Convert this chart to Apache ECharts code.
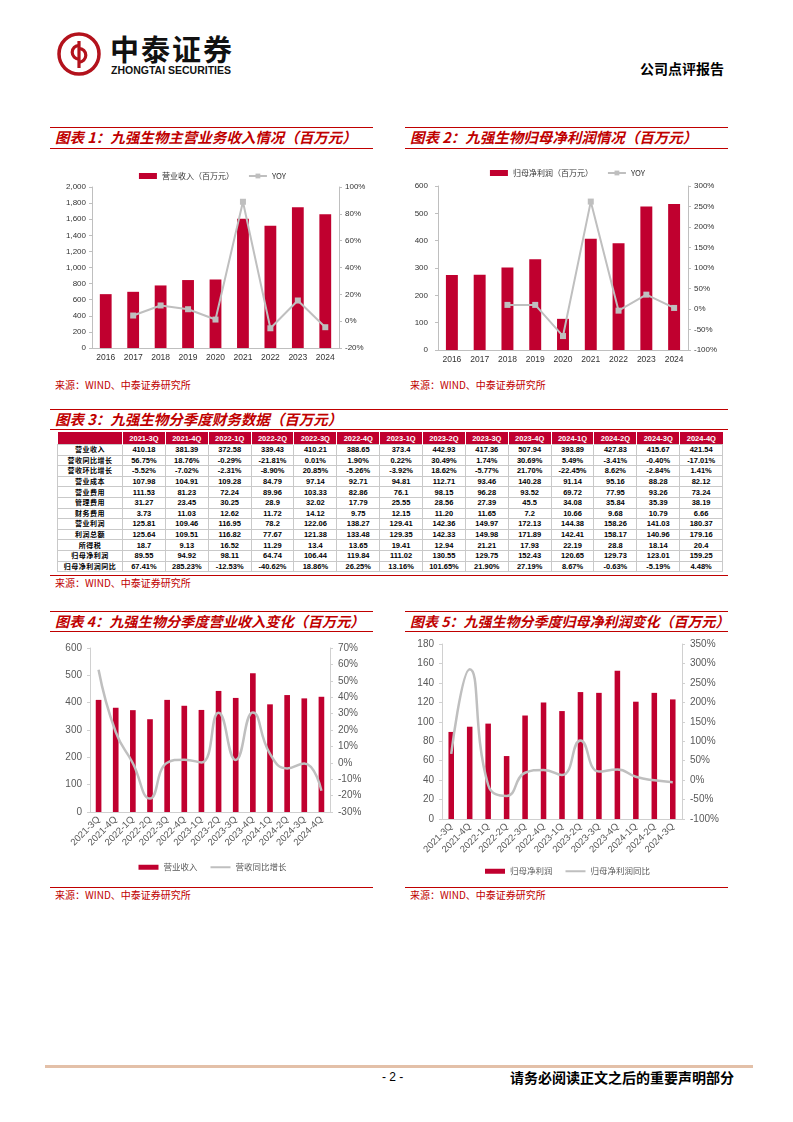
<!DOCTYPE html>
<html><head><meta charset="utf-8">
<script src="https://cdn.jsdelivr.net/npm/echarts@6.0.0/dist/echarts.min.js"></script>
<style>
body{margin:0;width:793px;height:1122px;position:relative;background:#fff;font-family:"Noto Sans CJK SC",sans-serif;overflow:hidden}
.abs{position:absolute}
.title{position:absolute;border-top:1.5px solid #c00000;border-bottom:1.5px solid #c00000;color:#c00000;font-weight:bold;font-style:italic;font-size:14.5px;line-height:18px;padding-left:5px;box-sizing:border-box;white-space:nowrap}
.src{position:absolute;color:#c00000;font-size:10px;line-height:12px;white-space:nowrap}
.rline{position:absolute;height:0;border-top:1.5px solid #c00000}
table{position:absolute;border-collapse:collapse;table-layout:fixed;font-family:"Liberation Sans",Arial,sans-serif;font-weight:bold;font-size:7.5px;color:#000}
th{background:#c0002f;color:#fff;height:12px;padding:0;text-align:center;border-left:1px solid #fff;font-size:7.5px}
td{border:1px solid #c9c9c9;height:9.6px;text-align:center;padding:0;line-height:9px;white-space:nowrap}
td.lab{font-family:"Noto Sans CJK SC",sans-serif;font-size:7px;letter-spacing:0.5px}
</style></head>
<body>
<!-- header -->
<svg class="abs" style="left:56px;top:31px" width="46" height="46" viewBox="0 0 46 46">
  <circle cx="23" cy="23" r="20" fill="none" stroke="#b3121c" stroke-width="3.5"/>
  <path d="M23 10 V37" stroke="#b3121c" stroke-width="3.2" fill="none"/>
  <path d="M23 14.5 A6.8 6.8 0 1 0 23 28.1" stroke="#b3121c" stroke-width="3.2" fill="none"/>
  <path d="M23 17.5 A6.8 6.8 0 1 1 23 31.1" stroke="#b3121c" stroke-width="3.2" fill="none"/>
</svg>
<div class="abs" style="left:110px;top:31px;font-size:29px;font-weight:bold;letter-spacing:2px;color:#111;line-height:34px">中泰证券</div>
<div class="abs" style="left:111px;top:64px;font-size:10.5px;font-weight:bold;color:#111;font-family:'Liberation Sans',Arial;line-height:12px">ZHONGTAI SECURITIES</div>
<div class="abs" style="left:640px;top:59px;font-size:14px;font-weight:bold;color:#000;line-height:18px">公司点评报告</div>

<!-- chart 1 & 2 titles -->
<div class="title" style="left:50px;top:127px;width:323px;height:22px">图表 1：九强生物主营业务收入情况（百万元）</div>
<div class="title" style="left:405px;top:127px;width:323px;height:22px">图表 2：九强生物归母净利润情况（百万元）</div>
<div id="c1" class="abs" style="left:50px;top:152px;width:325px;height:223px"></div>
<div id="c2" class="abs" style="left:405px;top:152px;width:325px;height:223px"></div>
<div class="src" style="left:55px;top:379px">来源：WIND、中泰证券研究所</div>
<div class="src" style="left:410px;top:379px">来源：WIND、中泰证券研究所</div>

<!-- table -->
<div class="title" style="left:50px;top:409px;width:678px;height:21px">图表 3：九强生物分季度财务数据（百万元）</div>
<table id="tbl" style="left:57px;top:432px;width:665px"></table>
<div class="rline" style="left:50px;top:575px;width:678px"></div>
<div class="src" style="left:55px;top:577px">来源：WIND、中泰证券研究所</div>

<!-- chart 4 & 5 -->
<div class="title" style="left:50px;top:611px;width:323px;height:21px;font-size:14.2px">图表 4：九强生物分季度营业收入变化（百万元）</div>
<div class="title" style="left:405px;top:611px;width:323px;height:21px;font-size:14px">图表 5：九强生物分季度归母净利润变化（百万元）</div>
<div id="c4" class="abs" style="left:50px;top:636px;width:325px;height:250px"></div>
<div id="c5" class="abs" style="left:405px;top:636px;width:325px;height:250px"></div>
<div class="rline" style="left:50px;top:887px;width:323px"></div>
<div class="rline" style="left:405px;top:887px;width:323px"></div>
<div class="src" style="left:55px;top:889px">来源：WIND、中泰证券研究所</div>
<div class="src" style="left:410px;top:889px">来源：WIND、中泰证券研究所</div>

<!-- footer -->
<div class="abs" style="left:45px;top:1065px;width:708px;height:3px;background:#e3c0a8"></div>
<div class="abs" style="left:382px;top:1070px;font-size:12px;font-family:'Liberation Sans',Arial;line-height:15px">- 2 -</div>
<div class="abs" style="left:510px;top:1068px;font-size:14px;font-weight:bold;line-height:18px">请务必阅读正文之后的重要声明部分</div>

<script>
// ---------- data ----------
const years = ['2016','2017','2018','2019','2020','2021','2022','2023','2024'];
const annualRevenue = [669, 698, 777, 844, 852, 1605, 1518, 1750, 1663];
const annualRevenueYoy = [null, 4.2, 11.7, 8.9, 1.2, 89.0, -5.3, 15.4, -4.5];
const annualProfit = [274, 275, 302, 332, 114, 407, 391, 525, 534];
const annualProfitYoy = [null, null, 10, 10, -66, 262, -4, 35, 2.6];

const quarters = ['2021-3Q','2021-4Q','2022-1Q','2022-2Q','2022-3Q','2022-4Q','2023-1Q','2023-2Q','2023-3Q','2023-4Q','2024-1Q','2024-2Q','2024-3Q','2024-4Q'];
const rowLabels = ['营业收入','营收同比增长','营收环比增长','营业成本','营业费用','管理费用','财务费用','营业利润','利润总额','所得税','归母净利润','归母净利润同比'];
const qRevenue   = ['410.18','381.39','372.58','339.43','410.21','388.65','373.4','442.93','417.36','507.94','393.89','427.83','415.67','421.54'];
const qRevYoy    = ['56.75%','18.76%','-0.29%','-21.81%','0.01%','1.90%','0.22%','30.49%','1.74%','30.69%','5.49%','-3.41%','-0.40%','-17.01%'];
const qRevQoq    = ['-5.52%','-7.02%','-2.31%','-8.90%','20.85%','-5.26%','-3.92%','18.62%','-5.77%','21.70%','-22.45%','8.62%','-2.84%','1.41%'];
const qCost      = ['107.98','104.91','109.28','84.79','97.14','92.71','94.81','112.71','93.46','140.28','91.14','95.16','88.28','82.12'];
const qSelling   = ['111.53','81.23','72.24','89.96','103.33','82.86','76.1','98.15','96.28','93.52','69.72','77.95','93.26','73.24'];
const qAdmin     = ['31.27','23.45','30.25','28.9','32.02','17.79','25.55','28.56','27.39','45.5','34.08','35.84','35.39','38.19'];
const qFinance   = ['3.73','11.03','12.62','11.72','14.12','9.75','12.15','11.20','11.65','7.2','10.66','9.68','10.79','6.66'];
const qOpProfit  = ['125.81','109.46','116.95','78.2','122.06','138.27','129.41','142.36','149.97','172.13','144.38','158.26','141.03','180.37'];
const qTotProfit = ['125.64','109.51','116.82','77.67','121.38','133.48','129.35','142.33','149.98','171.89','142.41','158.17','140.96','179.16'];
const qTax       = ['18.7','9.13','16.52','11.29','13.4','13.65','19.41','12.94','21.21','17.93','22.19','28.8','18.14','20.4'];
const qNetProfit = ['89.55','94.92','98.11','64.74','106.44','119.84','111.02','130.55','129.75','152.43','120.65','129.73','123.01','159.25'];
const qNetYoy    = ['67.41%','285.23%','-12.53%','-40.62%','18.86%','26.25%','13.16%','101.65%','21.90%','27.19%','8.67%','-0.63%','-5.19%','4.48%'];

// ---------- table ----------
(function(){
  const rows = [qRevenue,qRevYoy,qRevQoq,qCost,qSelling,qAdmin,qFinance,qOpProfit,qTotProfit,qTax,qNetProfit,qNetYoy];
  let h = '<colgroup><col style="width:65px">' + quarters.map(()=>'<col style="width:42.86px">').join('') + '</colgroup>';
  h += '<tr><th style="border-left:none"></th>' + quarters.map(q=>'<th>'+q+'</th>').join('') + '</tr>';
  rows.forEach((r,i)=>{
    h += '<tr><td class="lab">'+rowLabels[i]+'</td>' + r.map(v=>'<td>'+v+'</td>').join('') + '</tr>';
  });
  document.getElementById('tbl').innerHTML = h;
})();

// ---------- charts ----------
const RED = '#c0002f', GREY = '#bfbfbf';
const num = a => a.map(v => v == null ? null : parseFloat(v));
const FONT = '"Liberation Sans", Arial, sans-serif';
const CJK = '"Noto Sans CJK SC", sans-serif';

function axisY(min,max,interval,opt){
  return Object.assign({type:'value',min,max,interval,
    axisLine:{show:true,lineStyle:{color:GREY}},
    axisTick:{show:true,length:3,lineStyle:{color:GREY}},
    splitLine:{show:false}}, opt||{});
}

// Chart 1
echarts.init(document.getElementById('c1')).setOption({
  animation:false,
  legend:{top:15,left:'center',itemGap:14,itemWidth:18,itemHeight:6,
    textStyle:{fontSize:8,color:'#333',fontFamily:CJK},
    data:[{name:'营业收入（百万元）',icon:'rect'},{name:'YOY'}]},
  grid:{left:42,right:36,top:35,bottom:27},
  xAxis:{type:'category',data:years,axisLine:{lineStyle:{color:GREY}},axisTick:{length:3,lineStyle:{color:GREY}},
    axisLabel:{color:'#333',fontSize:8.5,margin:5,fontFamily:FONT}},
  yAxis:[
    axisY(0,2000,200,{axisLabel:{formatter:v=>v.toLocaleString('en-US'),color:'#333',fontSize:8,margin:6,fontFamily:FONT}}),
    axisY(-20,100,20,{axisLabel:{formatter:'{value}%',color:'#333',fontSize:8,margin:6,fontFamily:FONT}})
  ],
  series:[
    {type:'bar',name:'营业收入（百万元）',data:annualRevenue,barWidth:'43%',itemStyle:{color:RED}},
    {type:'line',name:'YOY',yAxisIndex:1,data:annualRevenueYoy,symbol:'rect',symbolSize:6,
      lineStyle:{color:GREY,width:2},itemStyle:{color:GREY}}
  ]
});

// Chart 2
echarts.init(document.getElementById('c2')).setOption({
  animation:false,
  legend:{top:12,left:'center',itemGap:14,itemWidth:18,itemHeight:6,
    textStyle:{fontSize:8,color:'#333',fontFamily:CJK},
    data:[{name:'归母净利润（百万元）',icon:'rect'},{name:'YOY'}]},
  grid:{left:33,right:42,top:34,bottom:25},
  xAxis:{type:'category',data:years,axisLine:{lineStyle:{color:GREY}},axisTick:{length:3,lineStyle:{color:GREY}},
    axisLabel:{color:'#333',fontSize:8.5,margin:5,fontFamily:FONT}},
  yAxis:[
    axisY(0,600,100,{axisLabel:{color:'#333',fontSize:8,margin:10,fontFamily:FONT}}),
    axisY(-100,300,50,{axisLabel:{formatter:'{value}%',color:'#333',fontSize:8,margin:6,fontFamily:FONT}})
  ],
  series:[
    {type:'bar',name:'归母净利润（百万元）',data:annualProfit,barWidth:'43%',itemStyle:{color:RED}},
    {type:'line',name:'YOY',yAxisIndex:1,data:annualProfitYoy,symbol:'rect',symbolSize:6,
      lineStyle:{color:GREY,width:2},itemStyle:{color:GREY}}
  ]
});

// Charts 4 and 5
function quarterChart(id, cats, bars, line, barName, lineName, grid, yl, yr, legendTop, barW){
  echarts.init(document.getElementById(id)).setOption({
    animation:false,
    legend:{top:legendTop,left:'center',itemGap:13,itemWidth:20,itemHeight:5,
      textStyle:{fontSize:8.5,color:'#595959',fontFamily:CJK},
      data:[{name:barName,icon:'rect'},{name:lineName,icon:'path://M0,0 L20,0 L20,2 L0,2 Z'}]},
    grid:grid,
    xAxis:{type:'category',data:cats,axisLine:{lineStyle:{color:'#d0d0d0'}},axisTick:{length:4,lineStyle:{color:'#d0d0d0'}},
      axisLabel:{color:'#595959',fontSize:9.5,rotate:45,interval:0,margin:6,fontFamily:FONT}},
    yAxis:[
      axisY(yl[0],yl[1],yl[2],{axisLine:{show:true,lineStyle:{color:'#d0d0d0'}},axisTick:{show:true,length:3,lineStyle:{color:'#d0d0d0'}},
        axisLabel:{color:'#595959',fontSize:10,margin:8,fontFamily:FONT}}),
      axisY(yr[0],yr[1],yr[2],{axisLine:{show:true,lineStyle:{color:'#d0d0d0'}},axisTick:{show:true,length:3,lineStyle:{color:'#d0d0d0'}},
        axisLabel:{formatter:'{value}%',color:'#595959',fontSize:10,margin:8,fontFamily:FONT}})
    ],
    series:[
      {type:'bar',name:barName,data:bars,barWidth:barW,itemStyle:{color:RED}},
      {type:'line',name:lineName,yAxisIndex:1,data:line,smooth:0.5,symbol:'none',
        lineStyle:{color:GREY,width:2.5},itemStyle:{color:GREY}}
    ]
  });
}
quarterChart('c4', quarters, num(qRevenue), num(qRevYoy), '营业收入', '营收同比增长',
  {left:40,right:45,top:12,bottom:74}, [0,600,100], [-30,70,10], 222, '33%');
quarterChart('c5', quarters.slice(0,13), num(qNetProfit.slice(0,13)), num(qNetYoy.slice(0,13)), '归母净利润', '归母净利润同比',
  {left:37,right:48,top:8,bottom:67}, [0,180,20], [-100,350,50], 226, '30%');
</script>
</body></html>
